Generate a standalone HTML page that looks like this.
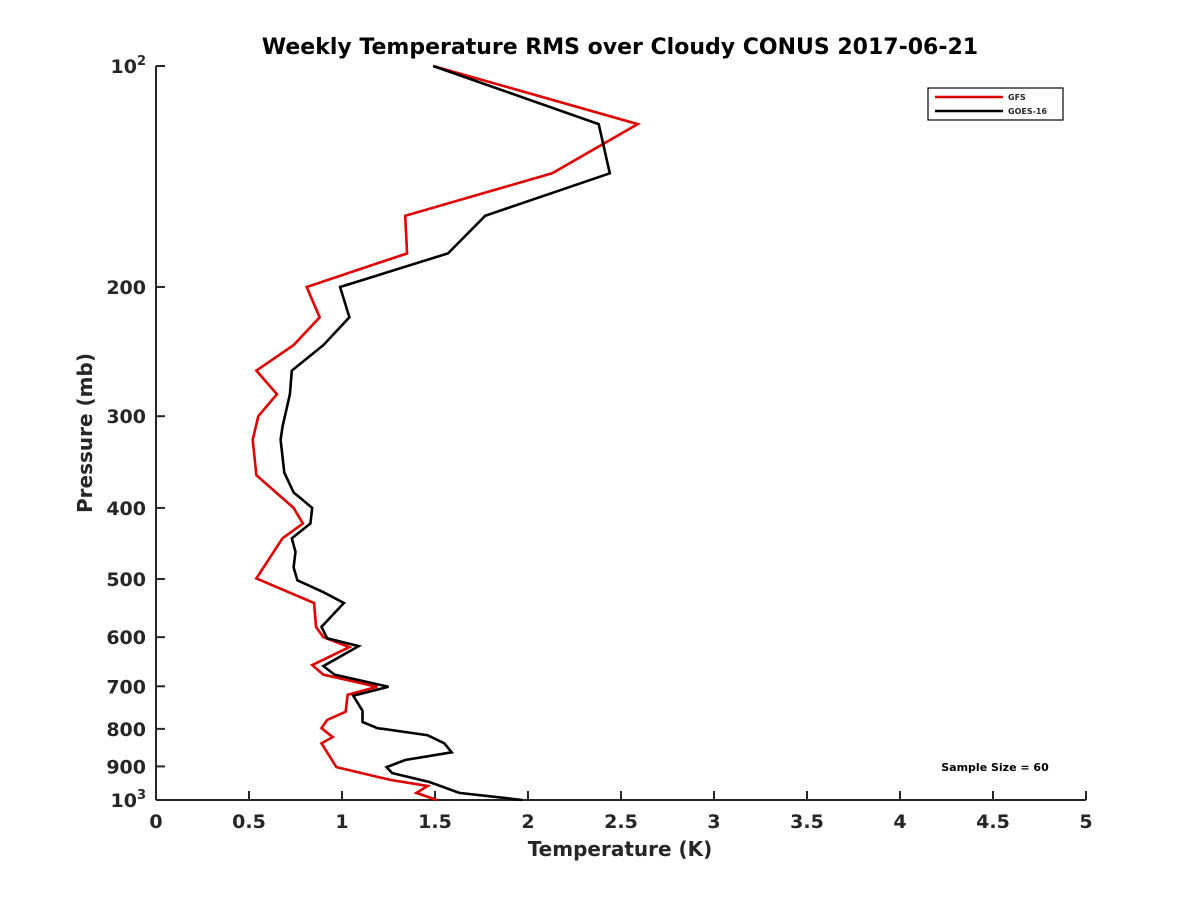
<!DOCTYPE html>
<html><head><meta charset="utf-8"><style>
html,body{margin:0;padding:0;background:#fff;}
svg text{font-family:"DejaVu Sans","Liberation Sans",sans-serif;font-weight:bold;fill:#262626;}
</style></head><body>
<svg id="chart" width="1200" height="900" viewBox="0 0 1200 900" xmlns="http://www.w3.org/2000/svg">
<rect width="1200" height="900" fill="#fff"/>
<text x="620" y="54" font-size="22" text-anchor="middle" style="fill:#000">Weekly Temperature RMS over Cloudy CONUS 2017-06-21</text>
<g id="axes"></g>
<g id="series"></g>
<text x="620" y="856" font-size="20" text-anchor="middle">Temperature (K)</text>
<text x="0" y="0" font-size="20" text-anchor="middle" transform="translate(92,433) rotate(-90)">Pressure (mb)</text>
<g>
<rect x="928" y="88" width="135" height="32" fill="#fff" stroke="#000" stroke-width="1.2"/>
<line x1="935" y1="97" x2="1003" y2="97" stroke="#e00000" stroke-width="2.5"/>
<text x="1008" y="100" font-size="8">GFS</text>
<line x1="935" y1="111" x2="1003" y2="111" stroke="#000" stroke-width="2.5"/>
<text x="1008" y="114" font-size="8">GOES-16</text>
</g>
<text x="995" y="771" font-size="11" text-anchor="middle" style="fill:#000">Sample Size = 60</text>
</svg>
<script>
const xTicks=[0,0.5,1,1.5,2,2.5,3,3.5,4,4.5,5];
const xTickLabels=["0","0.5","1","1.5","2","2.5","3","3.5","4","4.5","5"];
const yTicks=[100,200,300,400,500,600,700,800,900,1000];
const gfsPressure=[100,120,140,160,180,200,220,240,260,280,300,323,361,400,420,440,499,539,581,600,619,655,675,701,719,758,778,798,821,837,902,939,957,978,1000];
const gfsTemp=[1.49,2.59,2.13,1.34,1.35,0.81,0.88,0.74,0.54,0.65,0.55,0.52,0.54,0.74,0.79,0.68,0.54,0.85,0.86,0.90,1.04,0.84,0.90,1.19,1.03,1.02,0.92,0.89,0.95,0.89,0.97,1.26,1.46,1.40,1.51];
const goesPressure=[100,120,140,160,180,200,220,240,260,280,310,323,358,381,400,420,440,459,482,502,521,539,581,602,617,657,675,701,721,756,783,798,816,837,861,882,902,919,945,978,1000];
const goesTemp=[1.49,2.38,2.44,1.77,1.57,0.99,1.04,0.90,0.73,0.72,0.68,0.67,0.69,0.74,0.84,0.83,0.73,0.75,0.74,0.76,0.90,1.01,0.89,0.92,1.09,0.90,0.96,1.25,1.06,1.11,1.11,1.19,1.46,1.55,1.59,1.34,1.24,1.27,1.47,1.63,1.97];

const NS="http://www.w3.org/2000/svg";
const L=156,R=1086,T=66,B=800;
const xScale=v=>L+(v-0)/(5-0)*(R-L);
const yScale=p=>T+Math.log10(p/100)*(B-T);
const axes=document.getElementById('axes');
function mk(tag,attrs,parent){const e=document.createElementNS(NS,tag);for(const k in attrs)e.setAttribute(k,attrs[k]);parent.appendChild(e);return e;}

let ax=mk('line',{x1:L,y1:B,x2:R,y2:B,stroke:'#262626','stroke-width':2},axes);


let ay=mk('line',{x1:L,y1:T,x2:L,y2:B,stroke:'#262626','stroke-width':2},axes);



xTicks.forEach((v,i)=>{
  const x=xScale(v);
  const t=mk('line',{x1:x,y1:B,x2:x,y2:B-9,stroke:'#262626','stroke-width':2},axes);
  
  
  const tx=mk('text',{x:x,y:B+28,'font-size':19,'text-anchor':'middle'},axes);
  tx.textContent=xTickLabels[i];
  
  
});
yTicks.forEach(p=>{
  const y=yScale(p);
  const t=mk('line',{x1:L,y1:y,x2:L+9,y2:y,stroke:'#262626','stroke-width':2},axes);
  
  
  const tx=mk('text',{x:L-10,y:y+7,'font-size':19,'text-anchor':'end'},axes);
  if(p===100||p===1000){
    tx.textContent='10';
    const s=mk('tspan',{dy:-8,'font-size':13},tx);s.textContent=(p===100?'2':'3');
    
    
  } else tx.textContent=String(p);
  
  
});

const series=document.getElementById('series');
function drawLine(temps,pres,color,name){
  const pts=temps.map((t,i)=>xScale(t).toFixed(1)+','+yScale(pres[i]).toFixed(1)).join(' ');
  const pl=mk('polyline',{points:pts,fill:'none',stroke:color,'stroke-width':2.6,'stroke-linejoin':'miter'},series);
  
  
}
drawLine(gfsTemp,gfsPressure,'#e00000','gfs-line');
drawLine(goesTemp,goesPressure,'#000000','goes16-line');
</script>
</body></html>
